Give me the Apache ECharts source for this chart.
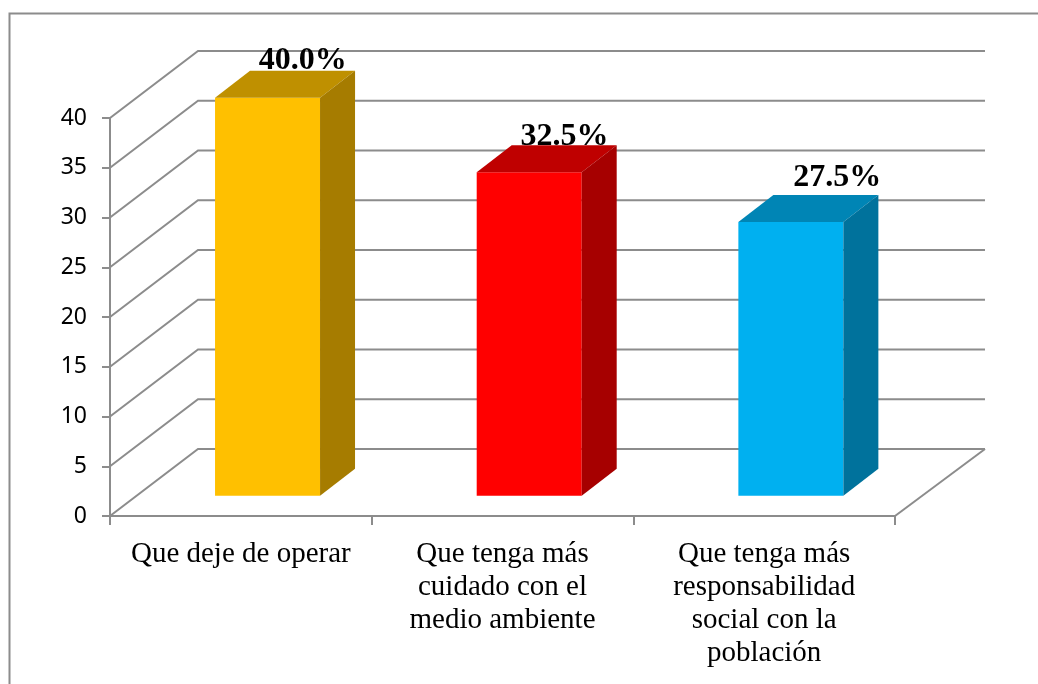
<!DOCTYPE html>
<html>
<head>
<meta charset="utf-8">
<style>
  html, body { margin: 0; padding: 0; background: #fff; }
  #chart { width: 1038px; height: 684px; }
</style>
<script src="https://cdn.jsdelivr.net/npm/echarts@6/dist/echarts.min.js"></script>
</head>
<body>
<div id="chart"></div>
<script>
const categories = [
  'Que deje de operar',
  'Que tenga más\ncuidado con el\nmedio ambiente',
  'Que tenga más\nresponsabilidad\nsocial con la\npoblación'
];
const values = [40.0, 32.5, 27.5];
const yTicks = [0, 5, 10, 15, 20, 25, 30, 35, 40];
const frontColors = ['#FFC000', '#FF0000', '#00B0F0'];
const topColors = ['#BF9000', '#BF0000', '#0085B5'];
const sideColors = ['#A67C00', '#A60000', '#00729C'];

// chart box depth, then where the bars sit inside it
const depthX = 88;
const depthY = -67;
const barOffX = 26.7;
const barOffY = -20.3;
const barDepthX = 35;
const barDepthY = -27;
const barWidth = 105;
const labelOffX = [62, 62, 73];
const labelOffY = [-37, -36, -44];

const lineColor = '#8c8c8c';

function renderWall(params, api) {
  const tick = api.value(1);
  const p = api.coord([0, tick]);
  const halfBand = api.size([1, 0])[0] / 2;
  const leftX = p[0] - halfBand;
  const rightX = p[0] + halfBand * 5;
  const children = [{
    type: 'polyline',
    shape: { points: [
      [leftX, p[1]],
      [leftX + depthX, p[1] + depthY],
      [rightX + depthX + 2, p[1] + depthY]
    ] },
    style: { stroke: lineColor, lineWidth: 2, fill: 'none' }
  }];
  if (tick === 0) {
    children.push({
      type: 'line',
      shape: { x1: rightX, y1: p[1], x2: rightX + depthX + 2, y2: p[1] + depthY },
      style: { stroke: lineColor, lineWidth: 2 }
    });
  }
  return { type: 'group', children };
}

function renderBar(params, api) {
  const i = params.dataIndex;
  const top = api.coord([i, api.value(1)]);
  const base = api.coord([i, 0]);
  const x0 = top[0] - barWidth / 2 + barOffX;
  const x1 = x0 + barWidth;
  const yTop = top[1] + barOffY;
  const yBase = base[1] + barOffY;
  return {
    type: 'group',
    children: [
      {
        type: 'polygon',
        shape: { points: [[x0, yTop], [x0, yBase], [x1, yBase], [x1, yTop]] },
        style: { fill: frontColors[i] }
      },
      {
        type: 'polygon',
        shape: { points: [[x0, yTop], [x1, yTop], [x1 + barDepthX, yTop + barDepthY], [x0 + barDepthX, yTop + barDepthY]] },
        style: { fill: topColors[i] }
      },
      {
        type: 'polygon',
        shape: { points: [[x1, yTop], [x1, yBase], [x1 + barDepthX, yBase + barDepthY], [x1 + barDepthX, yTop + barDepthY]] },
        style: { fill: sideColors[i] }
      }
    ]
  };
}

function renderLabel(params, api) {
  const i = params.dataIndex;
  const top = api.coord([i, api.value(1)]);
  return {
    type: 'text',
    style: {
      x: top[0] + labelOffX[i],
      y: top[1] + barOffY + labelOffY[i],
      text: api.value(1).toFixed(1) + '%',
      fill: '#000',
      font: 'bold 32px "Liberation Serif"',
      textAlign: 'center',
      textVerticalAlign: 'middle'
    }
  };
}

const chart = echarts.init(document.getElementById('chart'), null, { renderer: 'canvas' });
chart.setOption({
  animation: false,
  backgroundColor: '#fff',
  grid: { left: 110, top: 118, width: 785, height: 398, outerBoundsMode: 'none' },
  graphic: [{
    type: 'polyline',
    silent: true,
    shape: { points: [[9.5, 684], [9.5, 13.5], [1038, 13.5]] },
    style: { stroke: lineColor, lineWidth: 2, fill: 'none' }
  }],
  xAxis: {
    type: 'category',
    data: categories,
    axisLine: { show: true, lineStyle: { color: lineColor, width: 2 } },
    axisTick: { show: true, length: 9, lineStyle: { color: lineColor, width: 2 } },
    axisLabel: {
      interval: 0,
      margin: 22,
      color: '#000',
      fontFamily: 'Liberation Serif',
      fontSize: 29,
      lineHeight: 33
    }
  },
  yAxis: {
    type: 'value',
    min: 0,
    max: 40,
    interval: 5,
    z: 4,
    splitLine: { show: false },
    axisLine: { show: true, lineStyle: { color: lineColor, width: 2 } },
    axisTick: { show: true, length: 8, lineStyle: { color: lineColor, width: 2 } },
    axisLabel: { margin: 23, padding: [5, 0, 0, 0], color: '#000', fontFamily: 'Noto Sans', fontSize: 23 }
  },
  series: [
    { type: 'custom', z: 1, clip: false, renderItem: renderWall, data: yTicks.map((t) => [0, t]), encode: { x: 0, y: 1 } },
    { type: 'custom', z: 2, clip: false, renderItem: renderLabel, data: values.map((v, i) => [i, v]), encode: { x: 0, y: 1 } },
    { type: 'custom', z: 3, clip: false, renderItem: renderBar, data: values.map((v, i) => [i, v]), encode: { x: 0, y: 1 } }
  ]
});
</script>
</body>
</html>
